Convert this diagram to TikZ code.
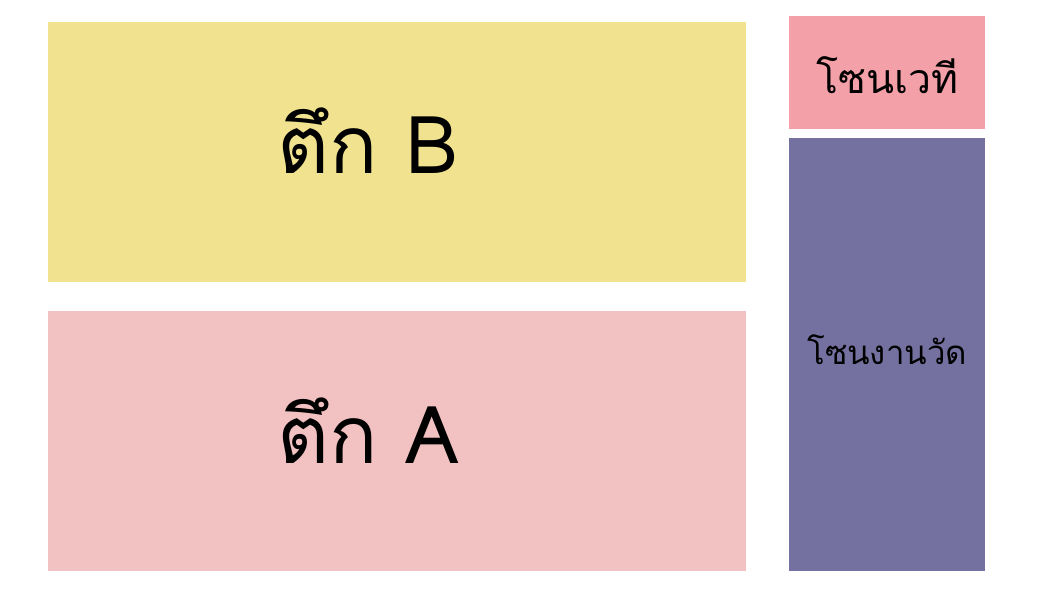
\documentclass[tikz,border=0pt]{standalone}
\usepackage{fontspec}
\newfontfamily\thaifont[Script=Thai]{Loma}
\definecolor{bldB}{HTML}{F0E28E}
\definecolor{bldA}{HTML}{F2C1C1}
\definecolor{stage}{HTML}{F4A0A8}
\definecolor{fair}{HTML}{7470A0}
\tikzset{
  zone/.style={draw=none, inner sep=0pt, anchor=north west},
  big/.style={font=\thaifont\fontsize{80}{88}\selectfont},
  mid/.style={font=\thaifont\fontsize{41}{48}\selectfont},
  small/.style={font=\thaifont\fontsize{33}{40}\selectfont},
}
\begin{document}
\begin{tikzpicture}[x=1pt,y=-1pt]
\useasboundingbox[fill=white] (0,0) rectangle (1048,590);
\node[zone, fill=bldB, minimum width=698pt, minimum height=260pt] (B) at (48,22) {};
\node[zone, fill=bldA, minimum width=698pt, minimum height=260pt] (A) at (48,311) {};
\node[zone, fill=stage, minimum width=196pt, minimum height=113pt] (S) at (789,16) {};
\node[zone, fill=fair, minimum width=196pt, minimum height=433pt] (F) at (789,138) {};
\node[big] (tB) at ([xshift=-29pt,yshift=12pt]B.center) {ตึก B};
\node[big] (tA) at ([xshift=-29pt,yshift=11pt]A.center) {ตึก A};
\node[mid] (tS) at ([yshift=-2pt]S.center) {โซนเวที};
\node[small] (tF) at ([yshift=5pt]F.center) {โซนงานวัด};
\end{tikzpicture}
\end{document}
